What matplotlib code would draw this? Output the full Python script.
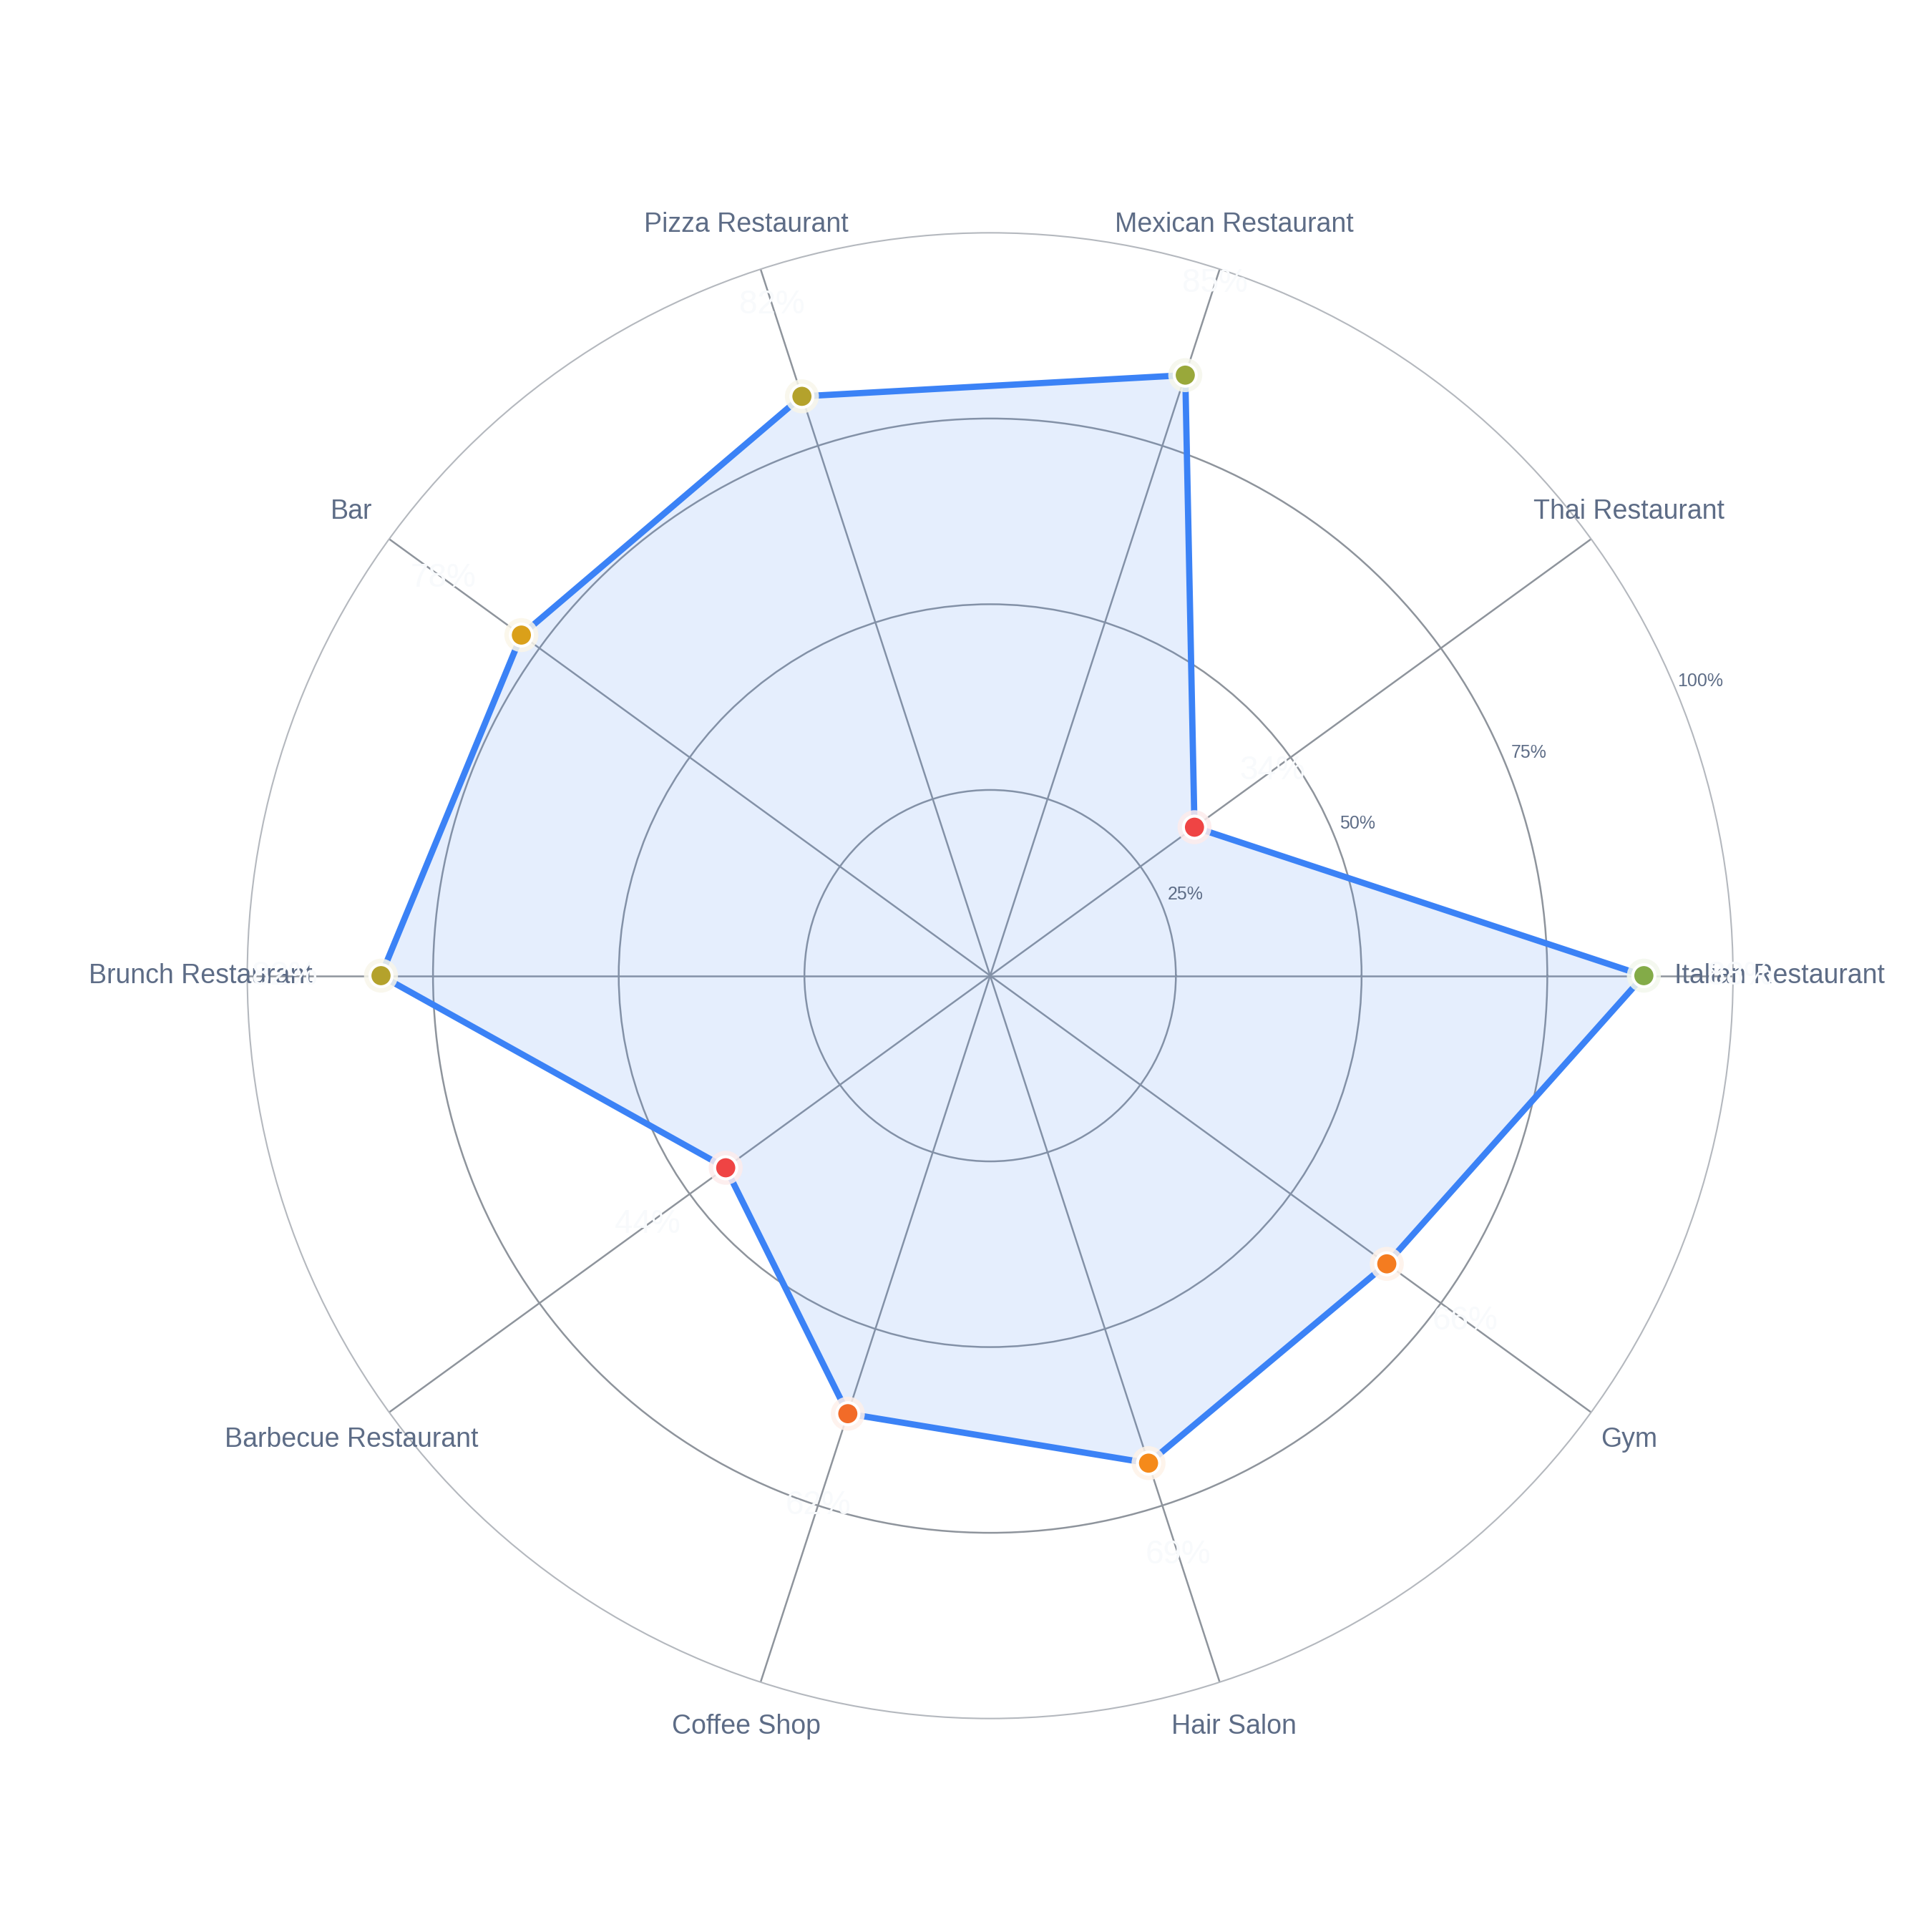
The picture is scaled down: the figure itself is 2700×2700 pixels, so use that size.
import numpy as np
import matplotlib
matplotlib.use("Agg")
import matplotlib.pyplot as plt
from matplotlib.colors import LinearSegmentedColormap, to_rgb

categories = ["Italian Restaurant", "Thai Restaurant", "Mexican Restaurant",
              "Pizza Restaurant", "Bar", "Brunch Restaurant", "Barbecue Restaurant",
              "Coffee Shop", "Hair Salon", "Gym"]
scores = [88, 34, 85, 82, 78, 82, 44, 62, 69, 66]
r_ticks = [25, 50, 75, 100]
r_tick_labels = ["25%", "50%", "75%", "100%"]

plt.rcParams['font.family'] = ['Liberation Sans', 'DejaVu Sans']

line_col = '#3b82f6'
text_col = '#5d6c86'
grid_col = '#8e949c'

# marker colour scale, red -> orange -> amber -> green
score_cmap = LinearSegmentedColormap.from_list("score", [
    (0.0, '#ef4444'), (0.45, '#ef4444'), (0.62, '#f26b28'), (0.69, '#f58a1a'),
    (0.78, '#daa01a'), (0.82, '#b4a22c'), (0.85, '#9aa83a'), (0.88, '#84ab48'),
    (1.0, '#5fa850')])

n = len(categories)
angles = np.arange(n) * 2 * np.pi / n
vals = np.array(scores, dtype=float)

fig = plt.figure(figsize=(9, 9), dpi=300)
R = 0.3845
ax = fig.add_axes([0.5125 - R, 0.495 - R, 2 * R, 2 * R], projection='polar')
ax.set_theta_offset(0)
ax.set_theta_direction(1)
ax.set_ylim(0, 100)

# grid
ax.set_xticks(angles)
ax.set_xticklabels([])
ax.set_yticks(r_ticks[:-1])
ax.set_yticklabels([])
ax.grid(True, color=grid_col, linewidth=0.6)
ax.spines['polar'].set_color('#b4b8be')
ax.spines['polar'].set_linewidth(0.5)
ax.tick_params(length=0)

# filled polygon
a_closed = np.append(angles, angles[0])
v_closed = np.append(vals, vals[0])
ax.fill(a_closed, v_closed, color=line_col, alpha=0.13, linewidth=0, zorder=2)
ax.plot(a_closed, v_closed, color=line_col, linewidth=2.1, zorder=3,
        solid_joinstyle='miter')

# markers with soft halo
cols = [score_cmap(v / 100) for v in vals]
halo = [tuple(0.9 * np.ones(3) + 0.1 * np.array(to_rgb(c))) for c in cols]
ax.scatter(angles, vals, s=130, c=halo, alpha=0.85, linewidths=0, zorder=4)
ax.scatter(angles, vals, s=55, c=cols, edgecolors='white', linewidths=1.0, zorder=5)

# category labels
for a, lab in zip(angles, categories):
    ax.text(a, 106.3, lab, ha='center', va='center', fontsize=9,
            color=text_col, clip_on=False, zorder=6)

# radial tick labels
tick_ang = np.deg2rad(22.5)
for rt, lab in zip(r_ticks, r_tick_labels):
    ax.text(tick_ang, rt + 3.5, lab, ha='center', va='center', fontsize=6,
            color=text_col, clip_on=False, zorder=6)

# value labels (white)
for a, v in zip(angles, vals):
    ax.text(a, v + 13, f"{int(v)}%", ha='center', va='center', fontsize=11,
            color='#f8fafc', family=['Liberation Sans Narrow', 'Liberation Sans'],
            clip_on=False, zorder=7)

fig.savefig("out.png", dpi=300, facecolor='white')
